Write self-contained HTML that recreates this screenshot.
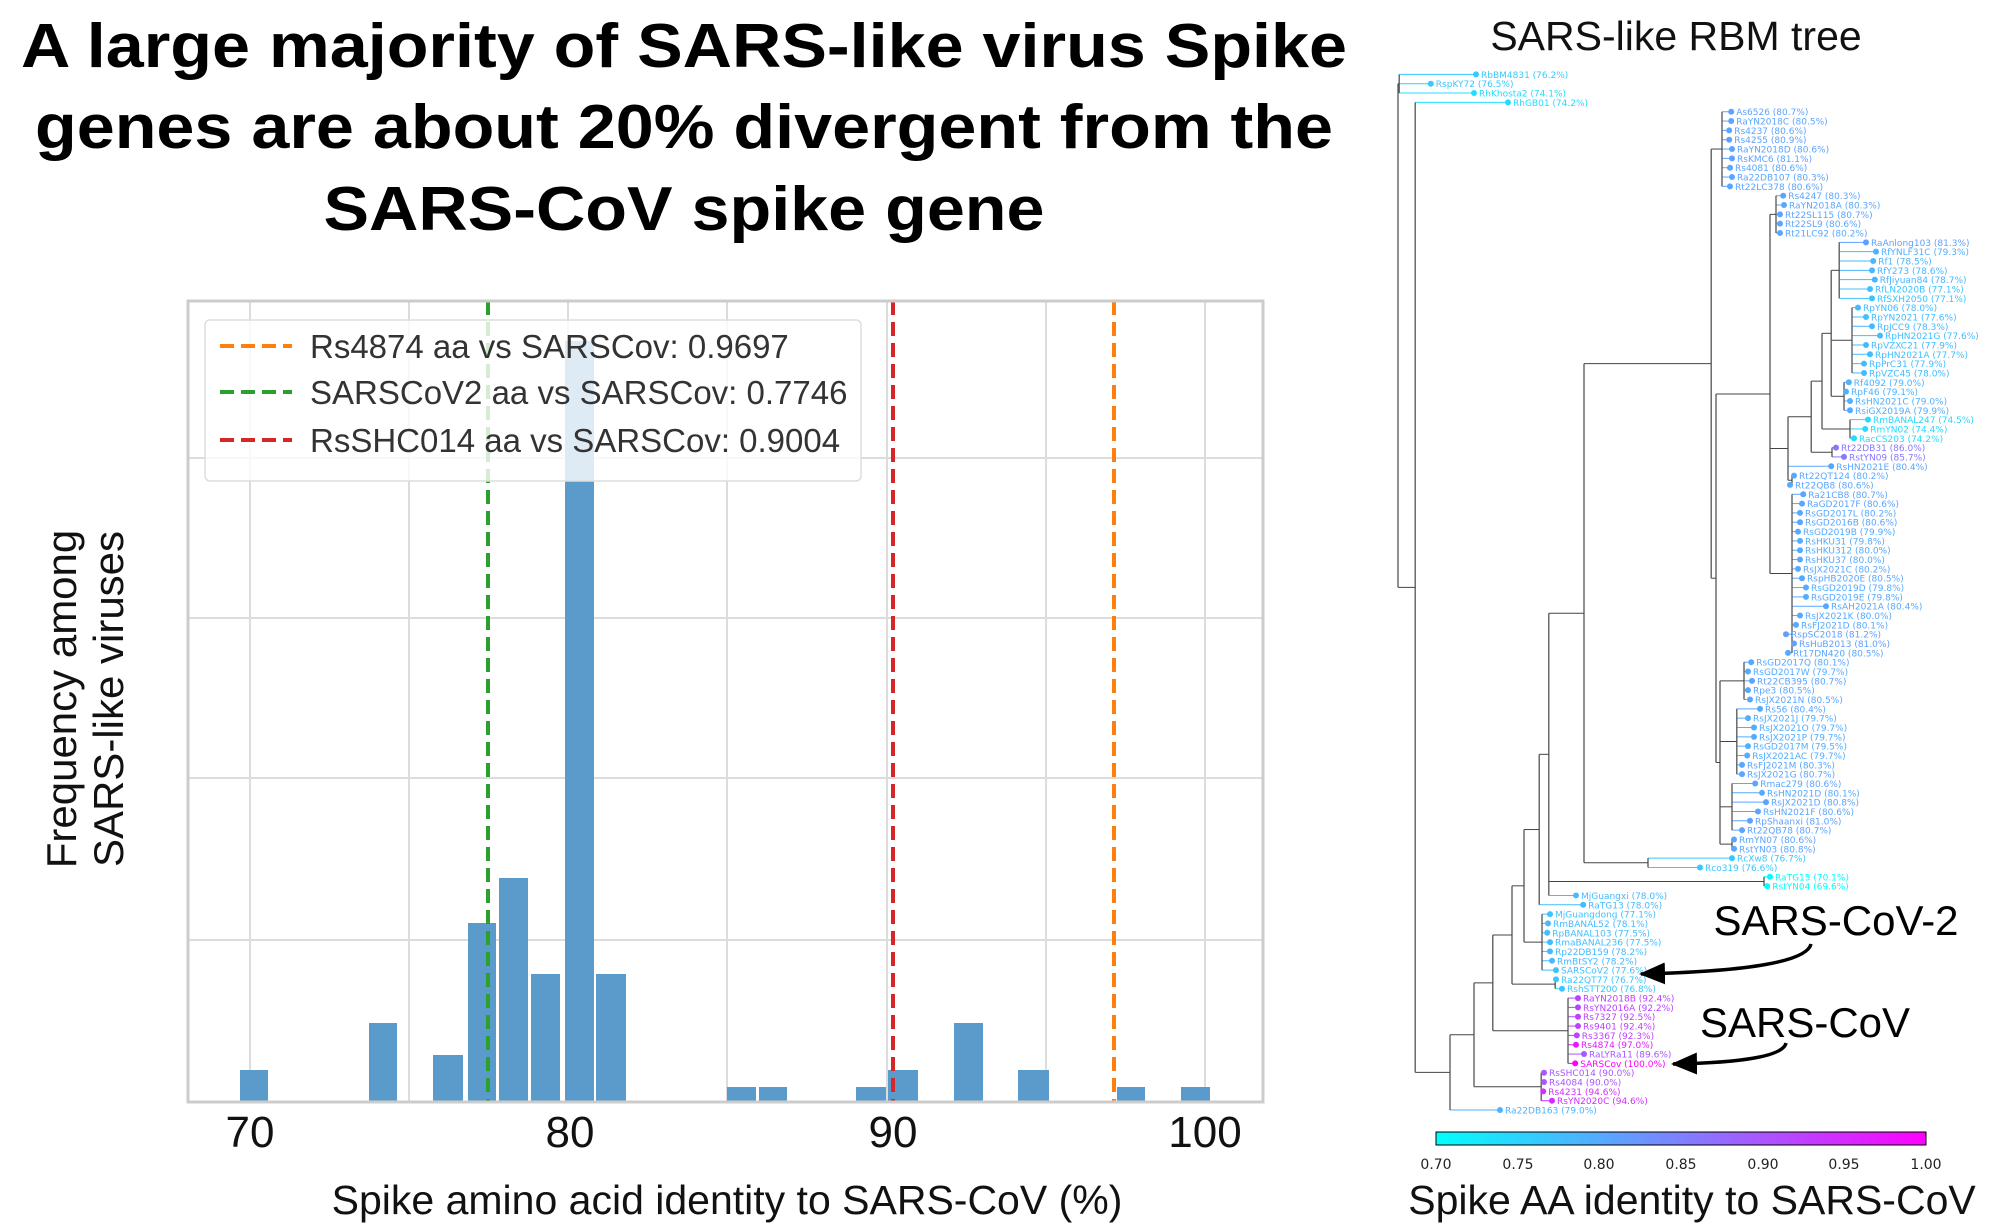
<!DOCTYPE html>
<html><head><meta charset="utf-8"><style>
html,body{margin:0;padding:0;background:#fff}
svg{display:block}
</style></head><body>
<svg id="s" width="2000" height="1232" viewBox="0 0 2000 1232" xmlns="http://www.w3.org/2000/svg" font-family="Liberation Sans, sans-serif">
<rect width="2000" height="1232" fill="#fff"/>
<g font-weight="bold" font-size="62" text-anchor="middle" fill="#000">
<text x="684" y="67" textLength="1326" lengthAdjust="spacingAndGlyphs">A large majority of SARS-like virus Spike</text>
<text x="684" y="148" textLength="1298" lengthAdjust="spacingAndGlyphs">genes are about 20% divergent from the</text>
<text x="684" y="230" textLength="721" lengthAdjust="spacingAndGlyphs">SARS-CoV spike gene</text>
</g>
<g stroke="#dcdcdc" stroke-width="2">
<line x1="250" y1="301" x2="250" y2="1102"/><line x1="409" y1="301" x2="409" y2="1102"/>
<line x1="568" y1="301" x2="568" y2="1102"/><line x1="727" y1="301" x2="727" y2="1102"/>
<line x1="887" y1="301" x2="887" y2="1102"/><line x1="1046" y1="301" x2="1046" y2="1102"/>
<line x1="1205" y1="301" x2="1205" y2="1102"/>
<line x1="188" y1="458" x2="1263" y2="458"/><line x1="188" y1="618" x2="1263" y2="618"/>
<line x1="188" y1="778" x2="1263" y2="778"/><line x1="188" y1="940" x2="1263" y2="940"/>
</g>
<g fill="#5b9bcb">
<rect x="240" y="1070" width="28" height="32"/>
<rect x="369" y="1023" width="28" height="79"/>
<rect x="433" y="1055" width="30" height="47"/>
<rect x="468" y="923" width="28" height="179"/>
<rect x="499" y="878" width="29" height="224"/>
<rect x="531" y="974" width="29" height="128"/>
<rect x="565" y="341" width="29" height="761"/>
<rect x="596" y="974" width="30" height="128"/>
<rect x="727" y="1087" width="29" height="15"/>
<rect x="759" y="1087" width="28" height="15"/>
<rect x="856" y="1087" width="30" height="15"/>
<rect x="888" y="1070" width="30" height="32"/>
<rect x="954" y="1023" width="29" height="79"/>
<rect x="1018" y="1070" width="31" height="32"/>
<rect x="1117" y="1087" width="28" height="15"/>
<rect x="1181" y="1087" width="29" height="15"/>
</g>
<g stroke-width="4" stroke-dasharray="14,7">
<line x1="488" y1="301" x2="488" y2="1102" stroke="#2ca02c"/>
<line x1="893" y1="301" x2="893" y2="1102" stroke="#d62728"/>
<line x1="1114" y1="301" x2="1114" y2="1102" stroke="#ff7f0e"/>
</g>
<rect x="188" y="301" width="1075" height="801" fill="none" stroke="#cccccc" stroke-width="3"/>
<rect x="205" y="320" width="656" height="161" rx="5" fill="#fff" fill-opacity="0.8" stroke="#ddd" stroke-width="1.5"/>
<g stroke-width="4" stroke-dasharray="14,7">
<line x1="220" y1="346" x2="292" y2="346" stroke="#ff7f0e"/>
<line x1="220" y1="392" x2="292" y2="392" stroke="#2ca02c"/>
<line x1="220" y1="440" x2="292" y2="440" stroke="#d62728"/>
</g>
<g font-size="33" fill="#333">
<text x="310" y="358">Rs4874 aa vs SARSCov: 0.9697</text>
<text x="310" y="404">SARSCoV2 aa vs SARSCov: 0.7746</text>
<text x="310" y="452">RsSHC014 aa vs SARSCov: 0.9004</text>
</g>
<g font-size="44" fill="#111" text-anchor="middle">
<text x="250" y="1147">70</text><text x="570" y="1147">80</text><text x="893" y="1147">90</text><text x="1205" y="1147">100</text>
</g>
<text x="727" y="1214" font-size="41" text-anchor="middle" fill="#111">Spike amino acid identity to SARS-CoV (%)</text>
<g font-size="42" fill="#111" text-anchor="middle">
<text transform="translate(76,699) rotate(-90)">Frequency among</text>
<text transform="translate(123,699) rotate(-90)">SARS-like viruses</text>
</g>
<text x="1676" y="50" font-size="41" text-anchor="middle" fill="#111">SARS-like RBM tree</text>
<g id="tree"></g>
<defs><linearGradient id="cg" x1="0" x2="1" y1="0" y2="0"><stop offset="0" stop-color="#00ffff"/><stop offset="1" stop-color="#ff00ff"/></linearGradient>
<marker id="ah" markerWidth="26" markerHeight="22" refX="24" refY="11" orient="auto" markerUnits="userSpaceOnUse" viewBox="0 0 26 22"><path d="M0,0 L26,11 L0,22 z" fill="#000"/></marker></defs>
<rect x="1436" y="1132" width="490" height="13" fill="url(#cg)" stroke="#000" stroke-width="1"/>
<g font-size="14" fill="#222" text-anchor="middle" font-family="DejaVu Sans, sans-serif">
<text x="1436" y="1169">0.70</text><text x="1518" y="1169">0.75</text><text x="1599" y="1169">0.80</text><text x="1681" y="1169">0.85</text><text x="1763" y="1169">0.90</text><text x="1844" y="1169">0.95</text><text x="1926" y="1169">1.00</text>
</g>
<text x="1692" y="1214" font-size="41" text-anchor="middle" fill="#111">Spike AA identity to SARS-CoV</text>
<text x="1836" y="935" font-size="42" text-anchor="middle" fill="#000">SARS-CoV-2</text>
<text x="1805" y="1037" font-size="42" text-anchor="middle" fill="#000">SARS-CoV</text>
<path d="M1811,944 Q1805,970 1641,974" fill="none" stroke="#000" stroke-width="3.5" marker-end="url(#ah)"/>
<path d="M1786,1043 Q1782,1062 1673,1064" fill="none" stroke="#000" stroke-width="3.5" marker-end="url(#ah)"/>
</svg>
<script>
var L=[["RbBM4831",76.2,240],["RspKY72",76.5,127],["RhKhosta2",74.1,235],["RhGB01",74.2,320],
["As6526",80.7,878],["RaYN2018C",80.5,878],["Rs4237",80.6,873],["Rs4255",80.9,873],["RaYN2018D",80.6,880],["RsKMC6",81.1,880],["Rs4081",80.6,875],["Ra22DB107",80.3,880],["Rt22LC378",80.6,875],
["Rs4247",80.3,1008],["RaYN2018A",80.3,1010],["Rt22SL115",80.7,1000],["Rt22SL9",80.6,1000],["Rt21LC92",80.2,1000],
["RaAnlong103",81.3,1215],["RfYNLF31C",79.3,1240],["Rf1",78.5,1233],["RfY273",78.6,1230],["RfJiyuan84",78.7,1237],["RfLN2020B",77.1,1225],["RfSXH2050",77.1,1230],
["RpYN06",78.0,1195],["RpYN2021",77.6,1215],["RpJCC9",78.3,1230],["RpHN2021G",77.6,1250],["RpVZXC21",77.9,1215],["RpHN2021A",77.7,1225],["RpPrC31",77.9,1210],["RpVZC45",78.0,1210],
["Rf4092",79.0,1172],["RpF46",79.1,1165],["RsHN2021C",79.0,1175],["RsiGX2019A",79.9,1175],["RmBANAL247",74.5,1220],["RmYN02",74.4,1213],["RacCS203",74.2,1185],
["Rt22DB31",86.0,1140],["RstYN09",85.7,1160],["RsHN2021E",80.4,1128],["Rt22QT124",80.2,1035],["Rt22QB8",80.6,1025],
["Ra21CB8",80.7,1058],["RaGD2017F",80.6,1055],["RsGD2017L",80.2,1050],["RsGD2016B",80.6,1050],["RsGD2019B",79.9,1045],["RsHKU31",79.8,1050],["RsHKU312",80.0,1050],["RsHKU37",80.0,1050],["RsJX2021C",80.2,1045],["RspHB2020E",80.5,1055],["RsGD2019D",79.8,1065],["RsGD2019E",79.8,1065],["RsAH2021A",80.4,1115],["RsJX2021K",80.0,1050],["RsFJ2021D",80.1,1040],["RspSC2018",81.2,1015],["RsHuB2013",81.0,1035],["Rt17DN420",80.5,1020],
["RsGD2017Q",80.1,928],["RsGD2017W",79.7,920],["Rt22CB395",80.7,930],["Rpe3",80.5,920],["RsJX2021N",80.5,925],
["Rs56",80.4,950],["RsJX2021J",79.7,920],["RsJX2021O",79.7,935],["RsJX2021P",79.7,935],["RsGD2017M",79.5,920],["RsJX2021AC",79.7,918],["RsFJ2021M",80.3,905],["RsJX2021G",80.7,905],
["Rmac279",80.6,938],["RsHN2021D",80.1,955],["RsJX2021D",80.8,965],["RsHN2021F",80.6,945],["RpShaanxi",81.0,925],["Rt22QB78",80.7,905],["RmYN07",80.6,885],["RstYN03",80.8,885],
["RcXw8",76.7,880],["Rco319",76.6,800],["RaTG15",70.1,975],["RstYN04",69.6,968],
["MjGuangxi",78.0,490],["RaTG13",78.0,508],["MjGuangdong",77.1,425],["RmBANAL52",78.1,420],["RpBANAL103",77.5,418],["RmaBANAL236",77.5,425],["Rp22DB159",78.2,425],["RmBtSY2",78.2,430],["SARSCoV2",77.6,440],["Ra22QT77",76.7,440],["RshSTT200",76.8,455],
["RaYN2018B",92.4,495],["RsYN2016A",92.2,495],["Rs7327",92.5,495],["Rs9401",92.4,495],["Rs3367",92.3,492],["Rs4874",97.0,490],["RaLYRa11",89.6,510],["SARSCov",100.0,488],
["RsSHC014",90.0,410],["Rs4084",90.0,410],["Rs4231",94.6,408],["RsYN2020C",94.6,430],["Ra22DB163",79.0,300]];
function X(z){return 1380+z/2.5}
function Y(i){return 74.4+(i-1)*9.33}
function col(p){var t=Math.max(0,Math.min(1,(p/100-0.7)/0.3));return "rgb("+Math.round(255*t)+","+Math.round(255*(1-t))+",255)"}
function R(a,b){var r=[];for(var i=a;i<=b;i++)r.push(i);return r}
function N(x,c){return {x:x,c:c}}
var tree=N(45,[N(48,[1,2,3]),N(88,[4,N(175,[N(235,[N(282,[N(330,[N(360,[N(398,[N(422,[
 N(510,[N(828,[N(855,R(5,13)),N(840,[N(975,[N(990,R(14,18)),N(1020,[N(1078,[N(1105,[N(1128,[N(1148,R(19,25)),N(1180,R(26,33)),N(1160,R(34,37))]),N(1175,[38,39,40])]),N(1130,[41,42])]),43,N(1030,[44,45])]),N(1030,R(46,63))]),
 N(850,[N(910,R(64,68)),N(892,R(69,76)),N(880,R(77,82)),N(880,[83,84])])])]),N(670,[85,86])]),N(960,[87,88]),89]),90]),N(405,R(91,97))]),N(438,[98,99])]),N(470,R(100,107))]),N(403,R(108,111))]),112])])]);
var out="";
function draw(n){
 if(typeof n==="number"){return Y(n)}
 var ys=[];
 for(var k=0;k<n.c.length;k++){var ch=n.c[k];var cy=draw(ch);ys.push(cy);
  var cx=typeof ch==="number"?L[ch-1][2]:ch.x;
  var c=typeof ch==="number"?col(L[ch-1][1]):"#444";
  out+='<line x1="'+X(n.x)+'" y1="'+cy+'" x2="'+X(cx)+'" y2="'+cy+'" stroke="'+c+'" stroke-width="1"/>';}
 var a=Math.min.apply(null,ys),b=Math.max.apply(null,ys);
 out+='<line x1="'+X(n.x)+'" y1="'+a+'" x2="'+X(n.x)+'" y2="'+b+'" stroke="#555" stroke-width="1.3"/>';
 return (a+b)/2;}
draw(tree);
for(var i=0;i<L.length;i++){var l=L[i],x=X(l[2]),y=Y(i+1),c=col(l[1]);
 out+='<circle cx="'+x+'" cy="'+y+'" r="3" fill="'+c+'"/>';
 out+='<text x="'+(x+5)+'" y="'+(y+3.5)+'" font-size="9" fill="'+c+'" font-family="DejaVu Sans, sans-serif">'+l[0]+' ('+l[1].toFixed(1)+'%)</text>';}
document.getElementById("tree").innerHTML=out;
</script>
</body></html>
